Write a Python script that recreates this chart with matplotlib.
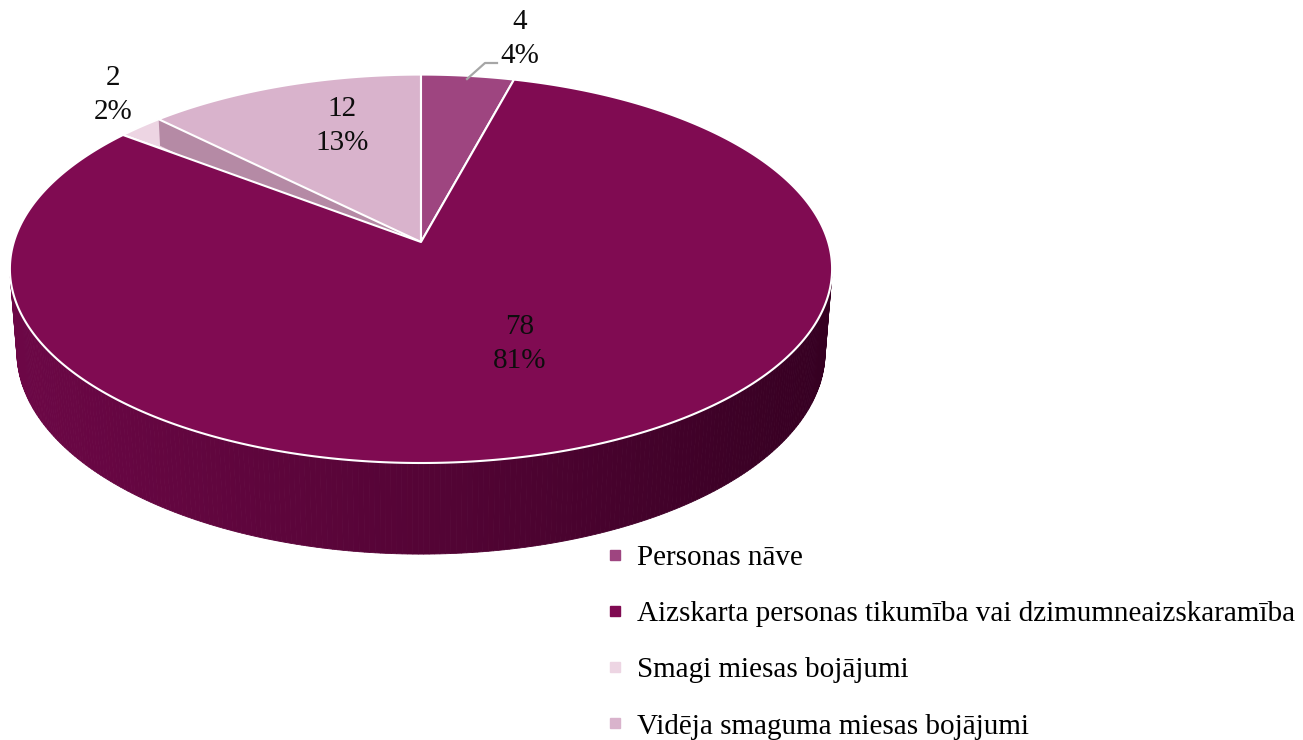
import numpy as np
import matplotlib
matplotlib.use("Agg")
import matplotlib.pyplot as plt
from matplotlib.patches import Polygon
from matplotlib.lines import Line2D

plt.rcParams['font.family'] = ['Liberation Serif', 'DejaVu Serif']

# data
categories = ["Personas nāve",
              "Aizskarta personas tikumība vai dzimumneaizskaramība",
              "Smagi miesas bojājumi",
              "Vidēja smaguma miesas bojājumi"]
values = [4, 78, 2, 12]
colors = ["#9E4580", "#800B52", "#EDD5E3", "#D9B3CC"]

# layout of the fake 3d pie (pixel space)
W, H = 1303, 740
cx, cy = 421, 242
elev = np.radians(27.9)
dist = 6.41
focal = 2610
thick = 0.233

def proj(theta, r=1.0, z=0.0):
    x = r * np.cos(theta)
    y = r * np.sin(theta)
    v = y * np.sin(elev) + z * np.cos(elev)
    d = y * np.cos(elev) - z * np.sin(elev)
    s = focal / (dist + d)
    return cx + x * s, cy - v * s

fig = plt.figure(figsize=(W / 100, H / 100), dpi=100)
ax = fig.add_axes([0, 0, 1, 1])
ax.set_xlim(0, W)
ax.set_ylim(H, 0)
ax.axis('off')

# slice angles, start at top, clockwise
total = sum(values)
spans = [v / total * 2 * np.pi for v in values]
starts = np.pi / 2 - np.concatenate([[0], np.cumsum(spans)[:-1]])
ends = starts - np.array(spans)

# side wall (front part only) with dark gradient
wall_stops_x = [15, 420, 830]
wall_stops_c = [np.array([0x6C, 0x07, 0x46]), np.array([0x55, 0x04, 0x36]), np.array([0x36, 0x00, 0x22])]

def wall_color(x):
    c = [np.interp(x, wall_stops_x, [s[i] for s in wall_stops_c]) for i in range(3)]
    return tuple(np.array(c) / 255)

lim = np.arcsin(1 / (dist * np.cos(elev)))
th = np.linspace(np.pi + lim, 2 * np.pi - lim, 240)
for a, b in zip(th[:-1], th[1:]):
    p1 = proj(a); p2 = proj(b)
    p3 = proj(b, z=-thick); p4 = proj(a, z=-thick)
    xm = (p1[0] + p2[0]) / 2
    ax.add_patch(Polygon([p1, p2, p3, p4], closed=True, facecolor=wall_color(xm),
                         edgecolor=wall_color(xm), linewidth=0.6))

def top_face(i):
    t = np.linspace(starts[i], ends[i], max(int(abs(spans[i]) * 80), 4))
    pts = [proj(0, 0)] + [proj(a) for a in t]
    return Polygon(pts, closed=True, facecolor=colors[i], edgecolor='white',
                   linewidth=1.5, joinstyle='round')

# draw order: small slices first, radial wall, then the big one on top
ax.add_patch(top_face(2))
b = starts[3]
ax.add_patch(Polygon([proj(b), proj(b, z=-thick * 0.34), proj(0, 0, -thick * 0.34), proj(0, 0)],
                     closed=True, facecolor="#B58AA5", edgecolor='none'))
ax.add_patch(top_face(3))
ax.add_patch(top_face(0))
ax.add_patch(top_face(1))

# data labels
label_pos = [(520, 39), (520, 344), (113, 95), (342, 126)]
for v, (lx, ly) in zip(values, label_pos):
    pct = int(np.floor(v / total * 100 + 0.5))
    ax.text(lx, ly, f"{v}\n{pct}%", ha='center', va='center', fontsize=21,
            linespacing=1.42, color='#0d0d0d')

# leader line for the small top slice
ax.plot([467, 485, 497], [79, 63, 63], color='#A6A6A6', linewidth=1.6)

# legend
handles = [Line2D([], [], marker='s', linestyle='none', markersize=7,
                  markerfacecolor=c, markeredgecolor=c) for c in colors]
leg = ax.legend(handles, categories, loc='upper left', bbox_to_anchor=(592 / W, 1 - 530 / H),
                frameon=False, fontsize=21, handlelength=0.6, handletextpad=0.45,
                labelspacing=1.02, borderpad=0)

fig.savefig("out.png", dpi=100)
